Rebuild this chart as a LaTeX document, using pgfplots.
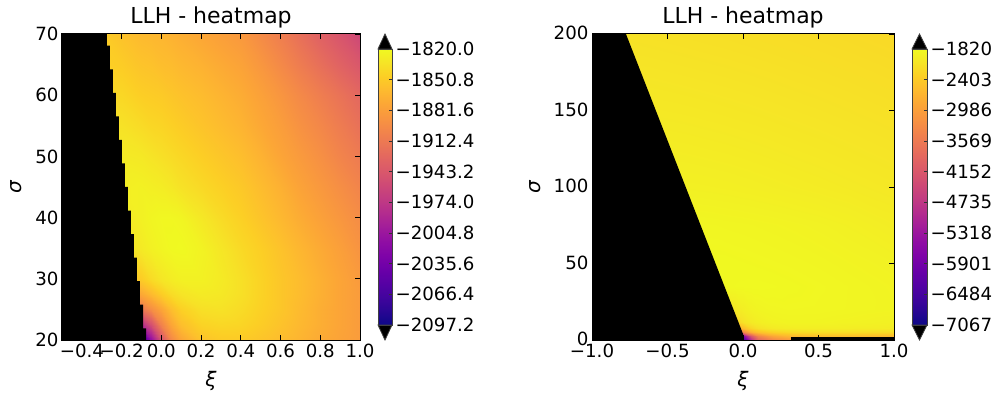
\documentclass[border=0pt]{standalone}
\usepackage{fontspec}
\setmainfont{DejaVu Sans}
\usepackage{pgfplots}
\usepackage{pgfplotstable}
\pgfplotsset{compat=1.18}
\pgfplotsset{colormap={plasma}{rgb255=(13,8,135) rgb255=(41,6,147) rgb255=(65,4,157) rgb255=(86,1,164) rgb255=(106,0,168) rgb255=(126,3,168) rgb255=(143,13,164) rgb255=(160,27,155) rgb255=(177,42,144) rgb255=(191,57,132) rgb255=(204,71,120) rgb255=(216,86,108) rgb255=(225,100,98) rgb255=(234,116,86) rgb255=(242,132,75) rgb255=(248,149,64) rgb255=(252,166,54) rgb255=(253,186,47) rgb255=(252,206,37) rgb255=(246,228,38) rgb255=(240,249,33)}}
\newcommand\tf{\fontsize{18.2}{20}\selectfont}
\pgfplotsset{
 heat/.style={scale only axis, anchor=south west, axis on top, enlargelimits=false,
  tick align=inside, major tick length=5pt, every tick/.style={black, line width=0.8pt},
  axis line style={black, line width=1pt}, tick label style={font=\tf},
  label style={font=\fontsize{20}{22}\selectfont},
  title style={font=\fontsize{22}{26}\selectfont, inner sep=0pt, at={(0.5,1)}, anchor=south},
  colormap name=plasma, scaled ticks=false},
 cbar/.style={scale only axis, anchor=south west, axis on top, height=276pt, xmin=0, xmax=1,
  xtick=\empty, ytick pos=right, yticklabel pos=right, tick align=inside, major tick length=3pt,
  every tick/.style={black!80, line width=0.6pt}, axis line style={black!75, line width=0.8pt},
  tick label style={font=\tf}, clip=false, scaled ticks=false, colormap name=plasma}
}
\pgfplotstableread[row sep=\\]{
xi s v\\
-0.5 20 -2083.3\\ -0.3 20 -2083.3\\ -0.2 20 -2083.3\\ -0.1 20 -2083.3\\ -0.05 20 -2014.0\\ 0 20 -1950.2\\ 0.05 20 -1900.4\\ 0.1 20 -1876.8\\ 0.2 20 -1856.0\\ 0.3 20 -1850.5\\ 0.4 20 -1850.5\\ 0.5 20 -1854.7\\ 0.6 20 -1860.2\\ 0.7 20 -1865.7\\ 0.8 20 -1872.7\\ 0.9 20 -1878.2\\ 1 20 -1883.8\\
-0.5 22.5 -1986.3\\ -0.3 22.5 -1986.3\\ -0.2 22.5 -1986.3\\ -0.1 22.5 -1986.3\\ -0.05 22.5 -1952.0\\ 0 22.5 -1906.0\\ 0.05 22.5 -1876.8\\ 0.1 22.5 -1858.8\\ 0.2 22.5 -1845.0\\ 0.3 22.5 -1842.2\\ 0.4 22.5 -1843.6\\ 0.5 22.5 -1849.1\\ 0.6 22.5 -1856.0\\ 0.7 22.5 -1863.0\\ 0.8 22.5 -1869.9\\ 0.9 22.5 -1876.8\\ 1 22.5 -1883.8\\
-0.5 25 -1914.2\\ -0.3 25 -1914.2\\ -0.2 25 -1914.2\\ -0.1 25 -1914.2\\ -0.05 25 -1894.8\\ 0 25 -1876.8\\ 0.05 25 -1858.8\\ 0.1 25 -1846.3\\ 0.2 25 -1836.6\\ 0.3 25 -1835.2\\ 0.4 25 -1839.4\\ 0.5 25 -1846.3\\ 0.6 25 -1853.3\\ 0.7 25 -1861.6\\ 0.8 25 -1869.9\\ 0.9 25 -1876.8\\ 1 25 -1883.8\\
-0.5 27.5 -1878.2\\ -0.3 27.5 -1878.2\\ -0.2 27.5 -1878.2\\ -0.1 27.5 -1874.1\\ -0.05 27.5 -1861.6\\ 0 27.5 -1849.1\\ 0.05 27.5 -1839.4\\ 0.1 27.5 -1833.9\\ 0.2 27.5 -1829.7\\ 0.3 27.5 -1831.1\\ 0.4 27.5 -1836.6\\ 0.5 27.5 -1845.0\\ 0.6 27.5 -1853.3\\ 0.7 27.5 -1860.2\\ 0.8 27.5 -1868.5\\ 0.9 27.5 -1876.8\\ 1 27.5 -1883.8\\
-0.5 30 -1856.0\\ -0.3 30 -1856.0\\ -0.2 30 -1856.0\\ -0.1 30 -1849.1\\ -0.05 30 -1839.4\\ 0 30 -1832.5\\ 0.05 30 -1828.3\\ 0.1 30 -1825.5\\ 0.2 30 -1825.5\\ 0.3 30 -1829.7\\ 0.4 30 -1836.6\\ 0.5 30 -1845.0\\ 0.6 30 -1853.3\\ 0.7 30 -1860.2\\ 0.8 30 -1868.5\\ 0.9 30 -1876.8\\ 1 30 -1885.1\\
-0.5 35 -1836.6\\ -0.3 35 -1836.6\\ -0.2 35 -1836.6\\ -0.1 35 -1829.7\\ -0.05 35 -1825.5\\ 0 35 -1822.8\\ 0.05 35 -1820.6\\ 0.1 35 -1820.0\\ 0.2 35 -1824.2\\ 0.3 35 -1832.5\\ 0.4 35 -1840.8\\ 0.5 35 -1847.7\\ 0.6 35 -1856.0\\ 0.7 35 -1864.4\\ 0.8 35 -1872.7\\ 0.9 35 -1881.0\\ 1 35 -1890.7\\
-0.5 40 -1831.1\\ -0.3 40 -1831.1\\ -0.2 40 -1831.1\\ -0.1 40 -1825.5\\ -0.05 40 -1822.8\\ 0 40 -1821.4\\ 0.05 40 -1821.4\\ 0.1 40 -1822.8\\ 0.2 40 -1831.1\\ 0.3 40 -1839.4\\ 0.4 40 -1846.3\\ 0.5 40 -1854.7\\ 0.6 40 -1863.0\\ 0.7 40 -1871.3\\ 0.8 40 -1879.6\\ 0.9 40 -1887.9\\ 1 40 -1896.2\\
-0.5 45 -1826.9\\ -0.3 45 -1826.9\\ -0.2 45 -1826.9\\ -0.1 45 -1825.5\\ -0.05 45 -1826.9\\ 0 45 -1828.3\\ 0.05 45 -1831.1\\ 0.1 45 -1835.2\\ 0.2 45 -1840.8\\ 0.3 45 -1846.3\\ 0.4 45 -1851.9\\ 0.5 45 -1860.2\\ 0.6 45 -1868.5\\ 0.7 45 -1878.2\\ 0.8 45 -1886.5\\ 0.9 45 -1894.8\\ 1 45 -1903.2\\
-0.5 50 -1829.7\\ -0.3 50 -1829.7\\ -0.2 50 -1829.7\\ -0.1 50 -1831.1\\ -0.05 50 -1833.9\\ 0 50 -1836.6\\ 0.05 50 -1839.4\\ 0.1 50 -1842.2\\ 0.2 50 -1847.7\\ 0.3 50 -1853.3\\ 0.4 50 -1858.8\\ 0.5 50 -1867.1\\ 0.6 50 -1876.8\\ 0.7 50 -1885.1\\ 0.8 50 -1893.5\\ 0.9 50 -1903.2\\ 1 50 -1911.5\\
-0.5 55 -1835.2\\ -0.3 55 -1835.2\\ -0.2 55 -1835.2\\ -0.1 55 -1839.4\\ -0.05 55 -1842.2\\ 0 55 -1843.6\\ 0.05 55 -1846.3\\ 0.1 55 -1849.1\\ 0.2 55 -1854.7\\ 0.3 55 -1860.2\\ 0.4 55 -1865.7\\ 0.5 55 -1874.1\\ 0.6 55 -1882.4\\ 0.7 55 -1892.1\\ 0.8 55 -1900.4\\ 0.9 55 -1910.1\\ 1 55 -1919.8\\
-0.5 60 -1840.8\\ -0.3 60 -1840.8\\ -0.2 60 -1842.2\\ -0.1 60 -1847.7\\ -0.05 60 -1849.1\\ 0 60 -1850.5\\ 0.05 60 -1853.3\\ 0.1 60 -1856.0\\ 0.2 60 -1860.2\\ 0.3 60 -1865.7\\ 0.4 60 -1871.3\\ 0.5 60 -1879.6\\ 0.6 60 -1889.3\\ 0.7 60 -1899.0\\ 0.8 60 -1908.7\\ 0.9 60 -1918.4\\ 1 60 -1928.1\\
-0.5 65 -1846.3\\ -0.3 65 -1846.3\\ -0.2 65 -1849.1\\ -0.1 65 -1854.7\\ -0.05 65 -1856.0\\ 0 65 -1858.8\\ 0.05 65 -1860.2\\ 0.1 65 -1863.0\\ 0.2 65 -1867.1\\ 0.3 65 -1872.7\\ 0.4 65 -1878.2\\ 0.5 65 -1887.9\\ 0.6 65 -1899.0\\ 0.7 65 -1910.1\\ 0.8 65 -1921.2\\ 0.9 65 -1932.3\\ 1 65 -1943.4\\
-0.5 70 -1849.1\\ -0.3 70 -1849.1\\ -0.2 70 -1856.0\\ -0.1 70 -1861.6\\ -0.05 70 -1863.0\\ 0 70 -1864.4\\ 0.05 70 -1867.1\\ 0.1 70 -1869.9\\ 0.2 70 -1875.4\\ 0.3 70 -1881.0\\ 0.4 70 -1886.5\\ 0.5 70 -1897.6\\ 0.6 70 -1908.7\\ 0.7 70 -1921.2\\ 0.8 70 -1933.7\\ 0.9 70 -1946.1\\ 1 70 -1958.6\\
}\lefttab
\pgfplotstableread[row sep=\\]{
xi s v\\
-1 0 -6804.7\\ -0.775 0 -6804.7\\ -0.6 0 -6804.7\\ -0.4 0 -6804.7\\ -0.2 0 -6804.7\\ -0.1 0 -6804.7\\ -0.05 0 -6804.7\\ 0 0 -6804.7\\ 0.05 0 -4968.2\\ 0.1 0 -3918.8\\ 0.2 0 -3394.1\\ 0.3 0 -3131.8\\ 0.5 0 -3131.8\\ 0.7 0 -3131.8\\ 1 0 -3131.8\\
-1 2.5 -6017.6\\ -0.775 2.5 -6017.6\\ -0.6 2.5 -6017.6\\ -0.4 2.5 -6017.6\\ -0.2 2.5 -6017.6\\ -0.1 2.5 -6017.6\\ -0.05 2.5 -6017.6\\ 0 2.5 -5755.3\\ 0.05 2.5 -4181.2\\ 0.1 2.5 -3394.1\\ 0.2 2.5 -2869.4\\ 0.3 2.5 -2659.5\\ 0.5 2.5 -2554.6\\ 0.7 2.5 -2554.6\\ 1 2.5 -2607.1\\
-1 5 -3656.5\\ -0.775 5 -3656.5\\ -0.6 5 -3656.5\\ -0.4 5 -3656.5\\ -0.2 5 -3656.5\\ -0.1 5 -3656.5\\ -0.05 5 -3656.5\\ 0 5 -3394.1\\ 0.05 5 -2764.5\\ 0.1 5 -2502.1\\ 0.2 5 -2292.2\\ 0.3 5 -2213.5\\ 0.5 5 -2161.1\\ 0.7 5 -2161.1\\ 1 5 -2187.3\\
-1 8 -2869.4\\ -0.775 8 -2869.4\\ -0.6 8 -2869.4\\ -0.4 8 -2869.4\\ -0.2 8 -2869.4\\ -0.1 8 -2869.4\\ -0.05 8 -2869.4\\ 0 8 -2554.6\\ 0.05 8 -2239.8\\ 0.1 8 -2108.6\\ 0.2 8 -2003.6\\ 0.3 8 -1966.9\\ 0.5 8 -1951.2\\ 0.7 8 -1961.7\\ 1 8 -1977.4\\
-1 12 -2344.7\\ -0.775 12 -2344.7\\ -0.6 12 -2344.7\\ -0.4 12 -2344.7\\ -0.2 12 -2344.7\\ -0.1 12 -2344.7\\ -0.05 12 -2344.7\\ 0 12 -2108.6\\ 0.05 12 -2003.6\\ 0.1 12 -1951.2\\ 0.2 12 -1898.7\\ 0.3 12 -1883.0\\ 0.5 12 -1883.0\\ 0.7 12 -1898.7\\ 1 12 -1924.9\\
-1 20 -2083.3\\ -0.775 20 -2083.3\\ -0.6 20 -2083.3\\ -0.4 20 -2083.3\\ -0.2 20 -2083.3\\ -0.1 20 -2083.3\\ -0.05 20 -2014.0\\ 0 20 -1950.2\\ 0.05 20 -1900.4\\ 0.1 20 -1876.8\\ 0.2 20 -1856.0\\ 0.3 20 -1850.5\\ 0.5 20 -1854.7\\ 0.7 20 -1865.7\\ 1 20 -1883.8\\
-1 35 -1836.6\\ -0.775 35 -1836.6\\ -0.6 35 -1836.6\\ -0.4 35 -1836.6\\ -0.2 35 -1836.6\\ -0.1 35 -1829.7\\ -0.05 35 -1825.5\\ 0 35 -1822.8\\ 0.05 35 -1820.6\\ 0.1 35 -1820.0\\ 0.2 35 -1824.2\\ 0.3 35 -1832.5\\ 0.5 35 -1847.7\\ 0.7 35 -1864.4\\ 1 35 -1890.7\\
-1 50 -1829.7\\ -0.775 50 -1829.7\\ -0.6 50 -1829.7\\ -0.4 50 -1829.7\\ -0.2 50 -1829.7\\ -0.1 50 -1831.1\\ -0.05 50 -1833.9\\ 0 50 -1836.6\\ 0.05 50 -1839.4\\ 0.1 50 -1842.2\\ 0.2 50 -1847.7\\ 0.3 50 -1853.3\\ 0.5 50 -1867.1\\ 0.7 50 -1885.1\\ 1 50 -1911.5\\
-1 75 -1858\\ -0.775 75 -1858\\ -0.6 75 -1858\\ -0.4 75 -1858\\ -0.2 75 -1862\\ -0.1 75 -1868\\ -0.05 75 -1870\\ 0 75 -1872\\ 0.05 75 -1875\\ 0.1 75 -1878\\ 0.2 75 -1884\\ 0.3 75 -1891\\ 0.5 75 -1908\\ 0.7 75 -1930\\ 1 75 -1972\\
-1 100 -1930\\ -0.775 100 -1930\\ -0.6 100 -1930\\ -0.4 100 -1930\\ -0.2 100 -1938\\ -0.1 100 -1943\\ -0.05 100 -1946\\ 0 100 -1950\\ 0.05 100 -1953\\ 0.1 100 -1957\\ 0.2 100 -1964\\ 0.3 100 -1972\\ 0.5 100 -1988\\ 0.7 100 -2005\\ 1 100 -2032\\
-1 125 -1975\\ -0.775 125 -1975\\ -0.6 125 -1975\\ -0.4 125 -1980\\ -0.2 125 -1990\\ -0.1 125 -1995\\ -0.05 125 -1998\\ 0 125 -2001\\ 0.05 125 -2005\\ 0.1 125 -2008\\ 0.2 125 -2015\\ 0.3 125 -2023\\ 0.5 125 -2038\\ 0.7 125 -2054\\ 1 125 -2080\\
-1 150 -2020\\ -0.775 150 -2020\\ -0.6 150 -2022\\ -0.4 150 -2030\\ -0.2 150 -2040\\ -0.1 150 -2046\\ -0.05 150 -2049\\ 0 150 -2052\\ 0.05 150 -2055\\ 0.1 150 -2058\\ 0.2 150 -2065\\ 0.3 150 -2072\\ 0.5 150 -2086\\ 0.7 150 -2101\\ 1 150 -2125\\
-1 175 -2065\\ -0.775 175 -2065\\ -0.6 175 -2070\\ -0.4 175 -2080\\ -0.2 175 -2090\\ -0.1 175 -2095\\ -0.05 175 -2098\\ 0 175 -2101\\ 0.05 175 -2104\\ 0.1 175 -2107\\ 0.2 175 -2113\\ 0.3 175 -2120\\ 0.5 175 -2133\\ 0.7 175 -2147\\ 1 175 -2170\\
-1 200 -2110\\ -0.775 200 -2110\\ -0.6 200 -2118\\ -0.4 200 -2128\\ -0.2 200 -2138\\ -0.1 200 -2143\\ -0.05 200 -2146\\ 0 200 -2149\\ 0.05 200 -2152\\ 0.1 200 -2155\\ 0.2 200 -2161\\ 0.3 200 -2167\\ 0.5 200 -2180\\ 0.7 200 -2193\\ 1 200 -2213\\
}\righttab
\begin{document}
\begin{tikzpicture}
\useasboundingbox (0,0) rectangle (997pt,394pt);
% ---------- left heatmap ----------
\begin{axis}[heat, at={(62pt,54pt)}, width=298pt, height=306pt,
  xmin=-0.5, xmax=1, ymin=20, ymax=70,
  point meta min=-2097.2, point meta max=-1820,
  xtick={-0.4,-0.2,0,0.2,0.4,0.6,0.8,1},
  xticklabels={−0.4,−0.2,0.0,0.2,0.4,0.6,0.8,1.0},
  ytick={20,30,40,50,60,70}, yticklabels={20,30,40,50,60,70},
  title={LLH - heatmap},
  xlabel={\itshape ξ}, ylabel={\itshape σ},
  xlabel style={at={(axis description cs:0.5,-0.134)}, anchor=center},
  ylabel style={at={(axis description cs:-0.154,0.5)}, anchor=center}]
\addplot[surf, shader=interp, mesh/cols=17, point meta=explicit] table[x=xi, y=s, meta=v] {\lefttab};
\addplot[fill=black, draw=none] coordinates {(-0.5,20) (-0.5,70) (-0.274,70) (-0.274,68.08) (-0.2589,68.08) (-0.2589,64.23) (-0.2437,64.23) (-0.2437,60.38) (-0.2286,60.38) (-0.2286,56.54) (-0.2134,56.54) (-0.2134,52.69) (-0.1983,52.69) (-0.1983,48.85) (-0.1831,48.85) (-0.1831,45.00) (-0.1680,45.00) (-0.1680,41.15) (-0.1528,41.15) (-0.1528,37.31) (-0.1377,37.31) (-0.1377,33.46) (-0.1225,33.46) (-0.1225,29.62) (-0.1074,29.62) (-0.1074,25.77) (-0.0922,25.77) (-0.0922,21.92) (-0.0771,21.92) (-0.0771,20)} -- cycle;
\end{axis}
% ---------- left colorbar ----------
\begin{axis}[cbar, at={(378pt,69pt)}, width=14pt, ymin=-2097.2, ymax=-1820,
  ytick={-2097.2,-2066.4,-2035.6,-2004.8,-1974.0,-1943.2,-1912.4,-1881.6,-1850.8,-1820.0},
  yticklabels={−2097.2,−2066.4,−2035.6,−2004.8,−1974.0,−1943.2,−1912.4,−1881.6,−1850.8,−1820.0}]
\addplot[surf, shader=interp, mesh/cols=2, point meta=y] coordinates {(0,-2097.2) (1,-2097.2) (0,-1820) (1,-1820)};
\addplot[fill=black, draw=black!75, line width=0.8pt] coordinates {(0,-1820) (1,-1820) (0.5,-1804.9)} -- cycle;
\addplot[fill=black, draw=black!75, line width=0.8pt] coordinates {(0,-2097.2) (1,-2097.2) (0.5,-2112.3)} -- cycle;
\end{axis}
% ---------- right heatmap ----------
\begin{axis}[heat, at={(592pt,54pt)}, width=302pt, height=306pt,
  xmin=-1, xmax=1, ymin=0, ymax=200,
  point meta min=-7067, point meta max=-1820,
  xtick={-1,-0.5,0,0.5,1},
  xticklabels={−1.0,−0.5,0.0,0.5,1.0},
  ytick={0,50,100,150,200}, yticklabels={0,50,100,150,200},
  yticklabel style={yshift=1pt},
  title={LLH - heatmap},
  xlabel={\itshape ξ}, ylabel={\itshape σ},
  xlabel style={at={(axis description cs:0.5,-0.134)}, anchor=center},
  ylabel style={at={(axis description cs:-0.189,0.5)}, anchor=center}]
\addplot[surf, shader=interp, mesh/cols=15, point meta=explicit] table[x=xi, y=s, meta=v] {\righttab};
\addplot[fill=black, draw=none] coordinates {(-1,0) (-1,200) (-0.775,200) (0,4) (0,0)} -- cycle;
\addplot[fill=black, draw=none] coordinates {(0.32,0) (0.32,2.2) (1,2.2) (1,0)} -- cycle;
\end{axis}
% ---------- right colorbar ----------
\begin{axis}[cbar, at={(912pt,69pt)}, width=15pt, ymin=-7067, ymax=-1820,
  ytick={-7067,-6484,-5901,-5318,-4735,-4152,-3569,-2986,-2403,-1820},
  yticklabels={−7067,−6484,−5901,−5318,−4735,−4152,−3569,−2986,−2403,−1820}]
\addplot[surf, shader=interp, mesh/cols=2, point meta=y] coordinates {(0,-7067) (1,-7067) (0,-1820) (1,-1820)};
\addplot[fill=black, draw=black!75, line width=0.8pt] coordinates {(0,-1820) (1,-1820) (0.5,-1534.8)} -- cycle;
\addplot[fill=black, draw=black!75, line width=0.8pt] coordinates {(0,-7067) (1,-7067) (0.5,-7352.2)} -- cycle;
\end{axis}
\end{tikzpicture}
\end{document}
